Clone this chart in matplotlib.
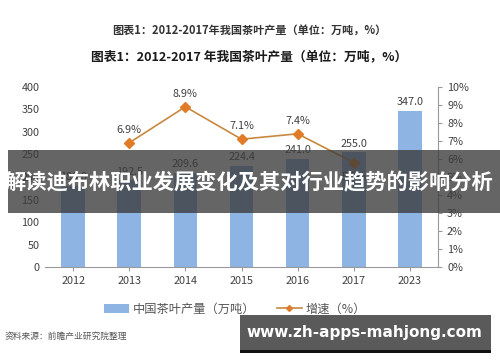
import matplotlib
matplotlib.use("Agg")
import matplotlib.pyplot as plt
from matplotlib.patches import Rectangle
from matplotlib.lines import Line2D
from matplotlib.patches import Patch

plt.rcParams['font.family'] = ['Noto Sans CJK SC', 'DejaVu Sans']

years = ["2012", "2013", "2014", "2015", "2016", "2017", "2023"]
output = [180.0, 192.5, 209.6, 224.4, 241.0, 255.0, 347.0]
growth_years = ["2013", "2014", "2015", "2016", "2017"]
growth = [6.9, 8.9, 7.1, 7.4, 5.8]
left_ticks = [0, 50, 100, 150, 200, 250, 300, 350, 400]
right_ticks = [0, 1, 2, 3, 4, 5, 6, 7, 8, 9, 10]

title1 = "图表1：2012-2017年我国茶叶产量（单位：万吨，%）"
title2 = "图表1：2012-2017 年我国茶叶产量（单位：万吨，%）"
banner = "解读迪布林职业发展变化及其对行业趋势的影响分析"
source = "资料来源：前瞻产业研究院整理"
site = "www.zh-apps-mahjong.com"

bar_color = "#8db4e2"
line_color = "#c8883f"
marker_color = "#e07b28"
text_gray = "#404040"

fig = plt.figure(figsize=(5, 3.62), dpi=100)
ax = fig.add_axes([0.09, 0.2624, 0.786, 0.4973])
x = list(range(len(years)))
ax.bar(x, output, width=0.42, color=bar_color, zorder=2)
for xi, v in zip(x, output):
    ax.text(xi, v + 8, f"{v:.1f}", ha="center", va="bottom", fontsize=7.8, color=text_gray)
ax.set_ylim(0, 400)
ax.set_xlim(-0.5, len(years) - 0.5)
ax.set_yticks(left_ticks)
ax.set_xticks(x)
ax.set_xticklabels(years)
ax.tick_params(axis="both", labelsize=7.8, colors=text_gray, length=3, color="#999999")
ax.tick_params(axis="y", length=0, pad=4)
for s in ["top", "right", "left"]:
    ax.spines[s].set_visible(False)
ax.spines["bottom"].set_color("#999999")

ax2 = ax.twinx()
gx = [years.index(g) for g in growth_years]
ax2.plot(gx, growth, color=line_color, lw=1.2, marker="D", markersize=5,
         markerfacecolor=marker_color, markeredgecolor=marker_color, zorder=3)
for i, (xi, v) in enumerate(zip(gx, growth)):
    if i == len(gx) - 1:
        ax2.text(xi, v - 0.5, f"{v:.1f}%", ha="center", va="top", fontsize=7.8, color=text_gray)
    else:
        ax2.text(xi, v + 0.45, f"{v:.1f}%", ha="center", va="bottom", fontsize=7.8, color=text_gray)
ax2.set_ylim(0, 10)
ax2.set_yticks(right_ticks)
ax2.set_yticklabels([f"{t}%" for t in right_ticks])
ax2.tick_params(axis="y", labelsize=7.8, colors=text_gray, length=3, color="#999999")
for s in ["top", "left", "bottom"]:
    ax2.spines[s].set_visible(False)
ax2.spines["right"].set_color("#999999")

handles = [Patch(facecolor=bar_color, edgecolor="none"),
           Line2D([0], [0], color=line_color, lw=1.2, marker="D", markersize=3,
                  markerfacecolor=marker_color, markeredgecolor=marker_color)]
fig.legend(handles, ["中国茶叶产量（万吨）", "增速（%）"], loc="center",
           bbox_to_anchor=(0.47, 0.146), ncol=2, frameon=False, fontsize=8.8,
           labelcolor="#555555", handlelength=2.0, columnspacing=1.8, handletextpad=0.3)

fig.text(0.498, 0.917, title1, ha="center", va="center", fontsize=8.0,
         fontweight="bold", color="#333333")
fig.text(0.498, 0.843, title2, ha="center", va="center", fontsize=9.2,
         fontweight="bold", color="#1a1a1a")
fig.text(0.01, 0.072, source, ha="left", va="center", fontsize=6.3,
         style="italic", color="#555555")

# dark banner overlay
fig.patches.append(Rectangle((0.016, 1 - 213 / 362), 0.984, 63 / 362,
                             transform=fig.transFigure, facecolor="#3a3a3a",
                             alpha=0.78, edgecolor="none", zorder=10))
fig.text(0.498, 1 - 183 / 362, banner, ha="center", va="center", fontsize=15.3,
         fontweight="bold", color="white", zorder=11)

# site watermark box
fig.patches.append(Rectangle((240 / 500, 1 - 353 / 362), 251 / 500, 4 / 362,
                             transform=fig.transFigure, facecolor="#111111",
                             edgecolor="none", zorder=10))
fig.patches.append(Rectangle((240 / 500, 1 - 350 / 362), 251 / 500, 35 / 362,
                             transform=fig.transFigure, facecolor="#5a5a5a",
                             edgecolor="none", zorder=10))
fig.text(364 / 500, 1 - 333 / 362, site, ha="center", va="center", fontsize=11,
         fontweight="bold", color="white", family=["DejaVu Sans"], zorder=11)

fig.savefig("out.png", dpi=100)
